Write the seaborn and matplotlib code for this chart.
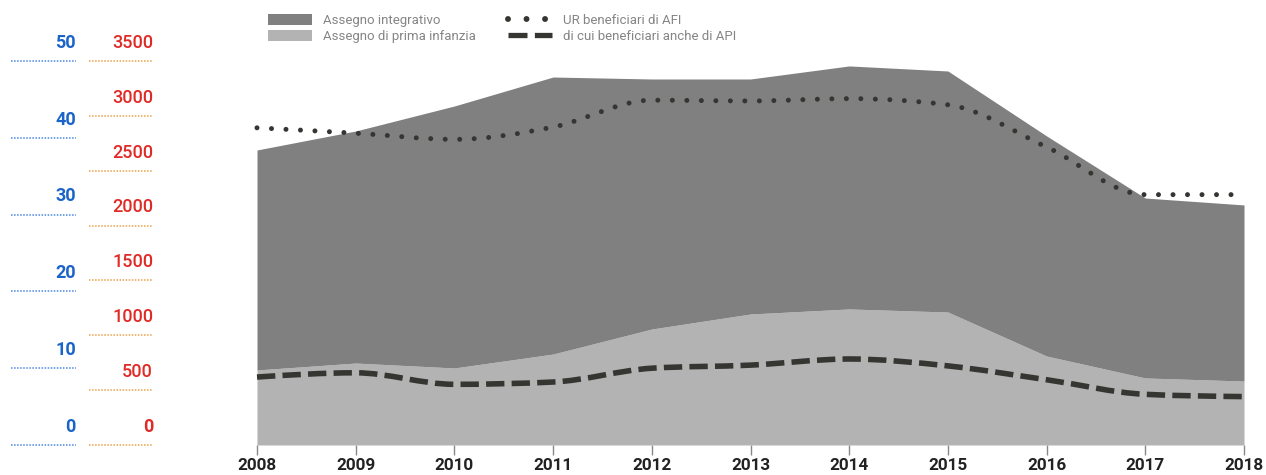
import numpy as np
import matplotlib
matplotlib.use("Agg")
import matplotlib.pyplot as plt
import seaborn as sns
from matplotlib.path import Path
from matplotlib.patches import PathPatch, Patch
from matplotlib.lines import Line2D

# ---------------- data ----------------
years = [2008, 2009, 2010, 2011, 2012, 2013, 2014, 2015, 2016, 2017, 2018]
assegno_prima_infanzia = [684, 747, 702, 829, 1057, 1194, 1240, 1212, 811, 611, 583]
assegno_integrativo = [2005, 2115, 2388, 2525, 2279, 2142, 2215, 2197, 2006, 1640, 1605]
ur_afi = [41.3, 40.6, 39.8, 41.4, 44.9, 44.8, 45.1, 44.3, 38.8, 32.6, 32.6]
ur_afi_api = [8.85, 9.4, 7.9, 8.2, 10.0, 10.4, 11.2, 10.3, 8.5, 6.6, 6.3]
blue_ticks = [0, 10, 20, 30, 40, 50]
red_ticks = [0, 500, 1000, 1500, 2000, 2500, 3000, 3500]
legend_labels = ["Assegno integrativo", "Assegno di prima infanzia",
                 "UR beneficiari di AFI", "di cui beneficiari anche di API"]

# ---------------- style ----------------
sns.set_theme(style="white")
plt.rcParams['font.family'] = ['Roboto', 'DejaVu Sans']

W, H = 1266, 475
fig = plt.figure(figsize=(W / 100, H / 100), dpi=100)

x0, x1 = 257, 1244
ybot, ytop = 445, 61
bottom = (H - ybot) / H
height = (ybot - ytop) / H

ax = fig.add_axes([x0 / W, bottom, (x1 - x0) / W, height])
ax2 = ax.twinx()

DARK = "#808080"
LIGHT = "#b3b3b3"
LINE = "#353532"

light = np.array(assegno_prima_infanzia, float)
dark = light + np.array(assegno_integrativo, float)

ax.fill_between(years, 0, light, color=LIGHT, lw=0, zorder=1)
ax.fill_between(years, light, dark, color=DARK, lw=0, zorder=1)
ax.set_xlim(years[0], years[-1])
ax.set_ylim(0, 3500)
ax2.set_ylim(0, 50)


def monotone_path(xs, ys):
    xs = np.asarray(xs, float)
    ys = np.asarray(ys, float)
    n = len(xs)
    h = np.diff(xs)
    s = np.diff(ys) / h
    t = np.zeros(n)
    for i in range(1, n - 1):
        s0, s1 = s[i - 1], s[i]
        h0, h1 = h[i - 1], h[i]
        p = (s0 * h1 + s1 * h0) / (h0 + h1)
        t[i] = (np.sign(s0) + np.sign(s1)) * min(abs(s0), abs(s1), 0.5 * abs(p))
    t[0] = (3 * s[0] - t[1]) / 2
    t[-1] = (3 * s[-1] - t[-2]) / 2
    verts = [(xs[0], ys[0])]
    codes = [Path.MOVETO]
    for i in range(n - 1):
        dx = (xs[i + 1] - xs[i]) / 3
        verts += [(xs[i] + dx, ys[i] + dx * t[i]),
                  (xs[i + 1] - dx, ys[i + 1] - dx * t[i + 1]),
                  (xs[i + 1], ys[i + 1])]
        codes += [Path.CURVE4] * 3
    return Path(verts, codes)


ax2.add_patch(PathPatch(monotone_path(years, ur_afi), fill=False, edgecolor=LINE,
                        lw=3.6, linestyle=(0, (0.001, 2.9)), capstyle='round',
                        zorder=3, clip_on=False))
ax2.add_patch(PathPatch(monotone_path(years, ur_afi_api), fill=False, edgecolor=LINE,
                        lw=4.0, linestyle=(0, (3.3, 1.3)), capstyle='butt',
                        zorder=3, clip_on=False))

for a in (ax, ax2):
    for sp in a.spines.values():
        sp.set_visible(False)
    a.set_yticks([])
    a.grid(False)
ax2.tick_params(axis='x', length=0)

ax.set_xticks(years)
ax.set_xticklabels([str(y) for y in years], fontsize=12.3, fontweight='bold', color='#222222')
ax.tick_params(axis='x', direction='out', length=7, width=1, color='#888888', pad=2.5, bottom=True)
ax.set_facecolor('none')

# ---------------- left scale columns ----------------
axb = fig.add_axes([11 / W, bottom, (76 - 11) / W, height])
axr = fig.add_axes([89 / W, bottom, (153 - 89) / W, height])
axb.set_ylim(0, 50)
axr.set_ylim(0, 3500)
for a, ticks, tcol, lcol in ((axb, blue_ticks, '#1a63c9', '#4a88e0'),
                             (axr, red_ticks, '#e02a25', '#e8a24c')):
    a.set_xlim(0, 1)
    a.axis('off')
    for v in ticks:
        a.plot([0, 1], [v, v], color=lcol, lw=1.1, linestyle=(0, (1, 1)), clip_on=False)
        weight = 'bold' if (a is axb or v == 0) else 'medium'
        a.annotate(f"{v}", xy=(1, v), xycoords=('axes fraction', 'data'),
                   xytext=(0, 9.5), textcoords='offset points', ha='right', va='baseline',
                   fontsize=13, fontweight=weight, color=tcol)

# ---------------- legend ----------------
handles = [Patch(facecolor=DARK, edgecolor='none'),
           Patch(facecolor=LIGHT, edgecolor='none'),
           Line2D([], [], color=LINE, lw=4.3, linestyle=(0, (0.001, 3.1)), dash_capstyle='round'),
           Line2D([], [], color=LINE, lw=3.8, linestyle=(0, (3.6, 1.4)), dash_capstyle='butt')]
fig.legend(handles, legend_labels, loc='upper left', bbox_to_anchor=(268 / W, 1 - 14 / H),
           ncol=2, frameon=False, fontsize=9.5, labelcolor='#858585',
           handlelength=3.3, handleheight=0.85, handletextpad=0.9, labelspacing=0.25,
           columnspacing=2.4, borderpad=0, borderaxespad=0)

fig.savefig("out.png", dpi=100)
